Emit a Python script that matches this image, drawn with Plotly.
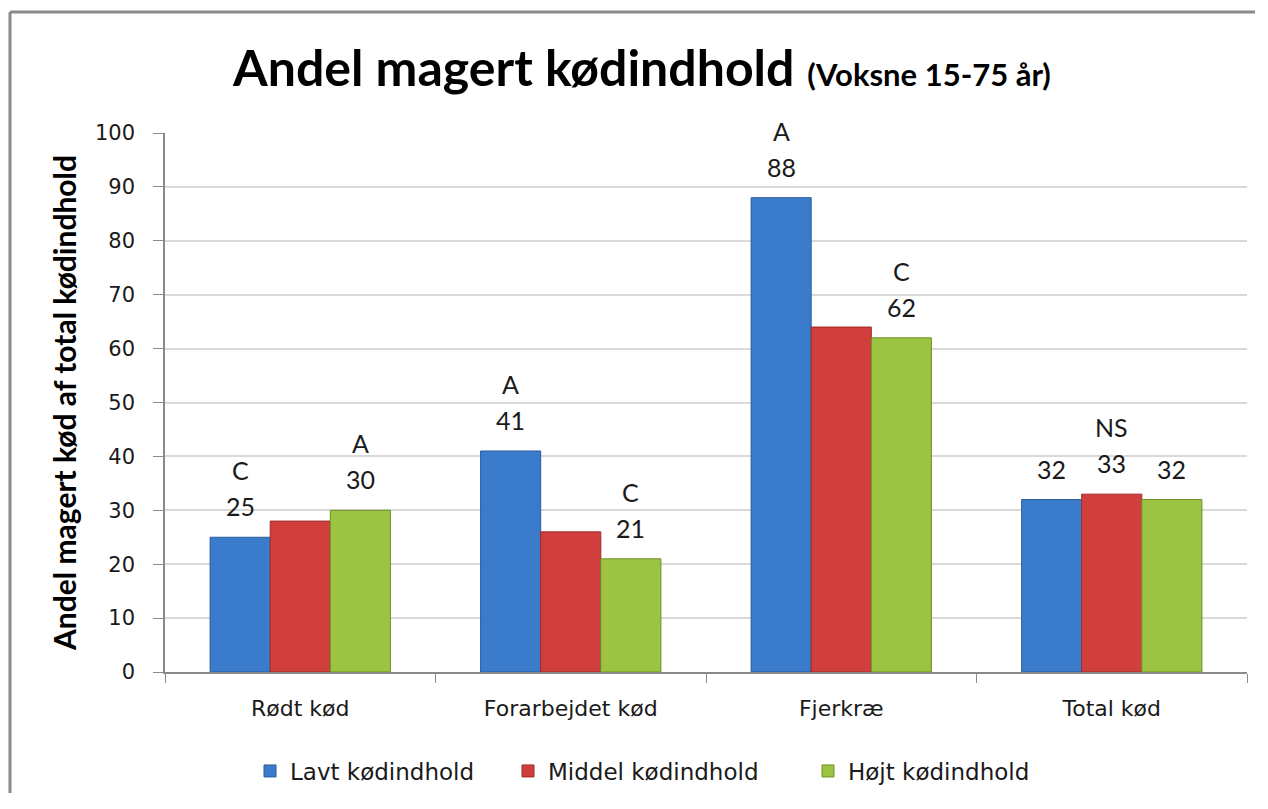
import plotly.graph_objects as go

categories = ["Rødt kød", "Forarbejdet kød", "Fjerkræ", "Total kød"]
series_names = ["Lavt kødindhold", "Middel kødindhold", "Højt kødindhold"]
lavt = [25, 41, 88, 32]
middel = [28, 26, 64, 33]
hojt = [30, 21, 62, 32]
lavt_letters = ["C", "A", "A", ""]
middel_letters = ["", "", "", "NS"]
hojt_letters = ["A", "C", "C", ""]
lavt_show = [True, True, True, True]
middel_show = [False, False, False, True]
hojt_show = [True, True, True, True]
y_ticks = [0, 10, 20, 30, 40, 50, 60, 70, 80, 90, 100]

colors = ["#3b7bcc", "#d13f3d", "#9cc341"]
edge_colors = ["#2b5d9c", "#9e2c2a", "#6f922a"]

# page body has an 8px margin; figure is sized to fit the window without scrollbars
OFF = 8
W, H = 1268 - 2 * OFF - 5, 809 - 2 * OFF - 8
ml = 165 - OFF
mt = 133 - OFF
plot_right = 1247 - OFF
plot_bottom = 672 - OFF
mr = W - plot_right
mb = H - plot_bottom
pw, ph = W - ml - mr, H - mt - mb

SANS = "DejaVu Sans"
LATO = "Lato"

legend_ids = ["legend", "legend2", "legend3"]
legend_text_start = [290, 548, 848]  # screen x where each legend text begins

fig = go.Figure()
all_vals = [lavt, middel, hojt]
all_letters = [lavt_letters, middel_letters, hojt_letters]
all_show = [lavt_show, middel_show, hojt_show]
for i, name in enumerate(series_names):
    fig.add_trace(go.Bar(
        x=categories, y=all_vals[i], name=name, legend=legend_ids[i], showlegend=True,
        marker=dict(color=colors[i], line=dict(color=edge_colors[i], width=1)),
        hoverinfo="x+y+name",
    ))

cat_px = pw / len(categories)
bargap = 1 / 3
bar_px = cat_px * (1 - bargap) / 3
offsets = [-bar_px, 0, bar_px]
annotations = []
for i in range(3):
    for j, c in enumerate(categories):
        v = all_vals[i][j]
        if all_show[i][j]:
            annotations.append(dict(x=c, y=v, xref="x", yref="y", text=str(v),
                                    showarrow=False, xshift=offsets[i], yshift=31,
                                    font=dict(family=LATO, size=25, color="#1a1a1a")))
        if all_letters[i][j]:
            annotations.append(dict(x=c, y=v, xref="x", yref="y", text=all_letters[i][j],
                                    showarrow=False, xshift=offsets[i], yshift=67,
                                    font=dict(family=LATO, size=25, color="#1a1a1a")))

frame_x = (10 - OFF - ml) / pw
frame_y = (plot_bottom - (12 - OFF)) / ph
frame_line = dict(color="#8a8a8a", width=3)
shapes = [
    dict(type="line", xref="paper", yref="paper", x0=frame_x, x1=(W - ml) / pw,
         y0=frame_y, y1=frame_y, line=frame_line, layer="below"),
    dict(type="line", xref="paper", yref="paper", x0=frame_x, x1=frame_x,
         y0=frame_y, y1=(plot_bottom - H) / ph, line=frame_line, layer="below"),
]

legend_y = (plot_bottom - (771 - OFF)) / ph
legend_font = dict(family=SANS, size=23, color="#1a1a1a")
legends = {}
for k, lid in enumerate(legend_ids):
    legends[lid] = dict(orientation="h", xanchor="left", xref="paper",
                        x=(legend_text_start[k] - OFF - 40 - ml) / pw,
                        y=legend_y, yanchor="middle", font=legend_font,
                        bgcolor="rgba(0,0,0,0)", borderwidth=0, visible=True)

fig.update_layout(
    width=W, height=H,
    showlegend=True,
    margin=dict(l=ml, r=mr, t=mt, b=mb, autoexpand=False),
    paper_bgcolor="white", plot_bgcolor="white",
    barmode="group", bargap=bargap, bargroupgap=0,
    title=dict(
        text="<b>Andel magert kødindhold</b> <b><span style='font-size:31px'>(Voksne 15-75 år)</span></b>",
        x=(642 - OFF) / W, xanchor="center", xref="container",
        y=1 - (68 - OFF) / H, yanchor="middle", yref="container",
        font=dict(family=LATO, size=50, color="black"),
    ),
    font=dict(family=SANS, color="#222"),
    xaxis=dict(
        type="category", tickson="boundaries", ticks="outside", ticklen=9,
        tickcolor="#8a8a8a", showline=True, linecolor="#8a8a8a", linewidth=1.5,
        tickfont=dict(family=SANS, size=22, color="#1a1a1a"), showgrid=False,
        ticklabelstandoff=16,
    ),
    yaxis=dict(
        range=[0, 100], tickvals=y_ticks, ticks="outside", ticklen=10,
        tickcolor="#8a8a8a", showline=True, linecolor="#8a8a8a", linewidth=1.5,
        gridcolor="#d9d9d9", gridwidth=1.5, zeroline=False,
        tickfont=dict(family=SANS, size=21, color="#1a1a1a"),
        ticklabelstandoff=14,
        title=dict(text="<b>Andel magert kød af total kødindhold</b>",
                   font=dict(family=LATO, size=30, color="black"), standoff=9),
    ),
    annotations=annotations,
    shapes=shapes,
    **legends,
)

fig.write_html("out.html")
